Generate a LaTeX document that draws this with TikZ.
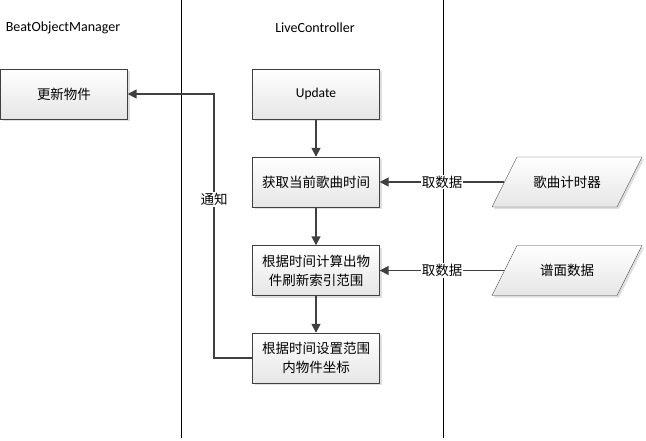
\documentclass[tikz,border=0pt]{standalone}
\usepackage{fontspec}
\setmainfont{Carlito}
\newfontfamily\cjk{Noto Sans CJK SC}
\usetikzlibrary{arrows.meta,shadows}

\begin{document}
\begin{tikzpicture}[x=1pt, y=-1pt,
  boxfill/.style={draw=black!75, top color=white, bottom color=black!10, drop shadow={shadow xshift=2pt, shadow yshift=-2pt, opacity=0.25}},
  proc/.style={boxfill, minimum width=127pt, minimum height=50pt, inner sep=2pt, align=center, font=\fontsize{13.5}{19}\selectfont},
  store/.style={minimum width=125pt, minimum height=50pt, inner sep=2pt, align=center, font=\cjk\fontsize{13.5}{19}\selectfont},
  flow/.style={draw=black!75, line width=1.6pt, -{Triangle[length=9pt, width=9pt]}},
  lbl/.style={fill=white, inner sep=1pt, font=\cjk\fontsize{13.5}{16}\selectfont},
  lane/.style={draw=black, line width=0.8pt},
  title/.style={font=\fontsize{14}{16}\selectfont}]

\useasboundingbox (0,0) rectangle (646,440);

\draw[lane] (181.5,0) -- (181.5,438);
\draw[lane] (443,0) -- (443,438);

\node[title] (bom title) at (63,28) {BeatObjectManager};
\node[title] (lc title) at (315,28) {LiveController};

\node[proc] (update objects) at (64,94) {\cjk 更新物件};

\node[proc] (update) at (316,94) {Update};
\node[proc] (get time) at (316,182) {\cjk 获取当前歌曲时间};
\node[proc] (calc range) at (316,270.5) {\cjk 根据时间计算出物\\\cjk 件刷新索引范围};
\node[proc] (set pos) at (316,358) {\cjk 根据时间设置范围\\\cjk 内物件坐标};

% parallelograms for the data sources
\coordinate (song timer pos) at (567,182);
\coordinate (chart data pos) at (567,270.5);
\path[boxfill] ([shift={(-75,25)}] song timer pos) -- ([shift={(-50,-25)}] song timer pos) -- ([shift={(75,-25)}] song timer pos) -- ([shift={(50,25)}] song timer pos) -- cycle;
\path[boxfill] ([shift={(-75,25)}] chart data pos) -- ([shift={(-50,-25)}] chart data pos) -- ([shift={(75,-25)}] chart data pos) -- ([shift={(50,25)}] chart data pos) -- cycle;
\node[store] (song timer) at (song timer pos) {歌曲计时器};
\node[store] (chart data) at (chart data pos) {谱面数据};

\draw[flow] (update) -- (get time);
\draw[flow] (get time) -- (calc range);
\draw[flow] (calc range) -- (set pos);

\draw[flow] (song timer) -- node[lbl] (fetch a) {取数据} (get time);
\draw[flow] (chart data) -- node[lbl] (fetch b) {取数据} (calc range);

\coordinate (notify corner) at (214,358);
\draw[flow] (set pos.west) -- (notify corner) |- node[lbl, pos=0.3] (notify) {通知} (update objects.east);

\end{tikzpicture}
\end{document}
